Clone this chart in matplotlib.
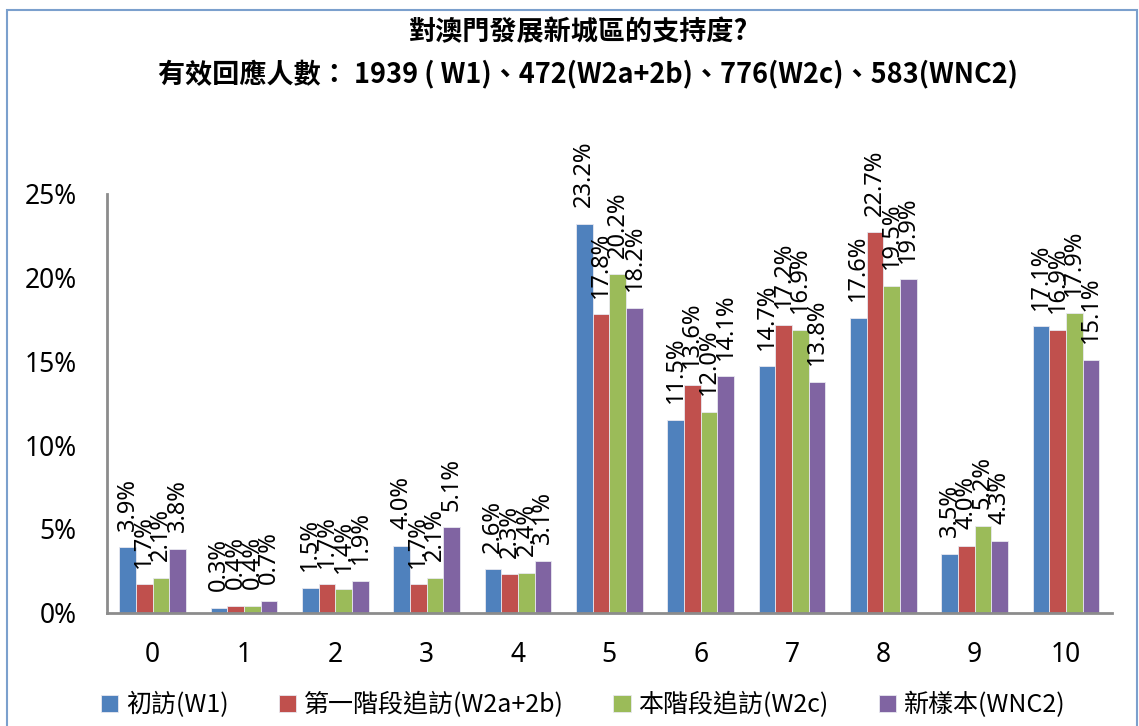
import numpy as np
import matplotlib.pyplot as plt
from matplotlib.patches import Rectangle

plt.rcParams['font.family'] = ['Noto Sans CJK TC', 'DejaVu Sans']

categories = ['0', '1', '2', '3', '4', '5', '6', '7', '8', '9', '10']
series_names = ['初訪(W1)', '第一階段追訪(W2a+2b)', '本階段追訪(W2c)', '新樣本(WNC2)']
w1 = [3.9, 0.3, 1.5, 4.0, 2.6, 23.2, 11.5, 14.7, 17.6, 3.5, 17.1]
w2ab = [1.7, 0.4, 1.7, 1.7, 2.3, 17.8, 13.6, 17.2, 22.7, 4.0, 16.9]
w2c = [2.1, 0.4, 1.4, 2.1, 2.4, 20.2, 12.0, 16.9, 19.5, 5.2, 17.9]
wnc2 = [3.8, 0.7, 1.9, 5.1, 3.1, 18.2, 14.1, 13.8, 19.9, 4.3, 15.1]
colors = ['#4F81BD', '#C0504D', '#9BBB59', '#8064A2']

title = '對澳門發展新城區的支持度?'
subtitle = '有效回應人數： 1939 ( W1)、472(W2a+2b)、776(W2c)、583(WNC2)'


def main():
    fig = plt.figure(figsize=(11.39, 7.26), dpi=100)
    ax = fig.add_axes([0.094, 0.156, 0.882, 0.577])

    x = np.arange(len(categories))
    width = 0.183
    all_series = [w1, w2ab, w2c, wnc2]
    for i, (vals, name, col) in enumerate(zip(all_series, series_names, colors)):
        pos = x + (i - 1.5) * width
        v = np.array(vals) / 100
        ax.bar(pos, v, width, color=col, edgecolor='#e8e8f0', linewidth=0.6,
               label=name, zorder=2)
        # value labels, rotated like the excel original
        for xp, val, raw in zip(pos, v, vals):
            ax.annotate(f'{raw:.1f}%', (xp, val), xytext=(0, 12),
                        textcoords='offset points', rotation=90,
                        ha='center', va='bottom', fontsize=17,
                        family=['Noto Sans'], annotation_clip=False)

    ax.set_xlim(-0.5, len(categories) - 0.5)
    ax.set_ylim(0, 0.25)
    ax.set_yticks(np.arange(0, 0.26, 0.05))
    ax.set_yticklabels([f'{int(t)}%' for t in np.arange(0, 26, 5)])
    ax.set_xticks(x)
    ax.set_xticklabels(categories)
    ax.tick_params(axis='both', length=0, labelsize=19)
    ax.tick_params(axis='y', pad=22)
    ax.tick_params(axis='x', pad=20)
    for lab in ax.get_xticklabels() + ax.get_yticklabels():
        lab.set_family(['Noto Sans'])

    for s in ['top', 'right']:
        ax.spines[s].set_visible(False)
    for s in ['left', 'bottom']:
        ax.spines[s].set_color('#8c8c8c')
        ax.spines[s].set_linewidth(2)

    fig.text(0.508, 0.955, title, ha='center', va='center', fontsize=19.5,
             fontweight='bold')
    fig.text(0.516, 0.897, subtitle, ha='center', va='center', fontsize=19.5,
             fontweight='bold')

    ax.legend(loc='center', bbox_to_anchor=(0.512, 0.029),
              bbox_transform=fig.transFigure, ncol=4, frameon=False,
              fontsize=18, handlelength=0.7, handleheight=0.7,
              handletextpad=0.3, columnspacing=2.0)

    fig.add_artist(Rectangle((0.006, -0.02), 0.992, 1.006, transform=fig.transFigure,
                             fill=False, edgecolor='#7ba0cd', linewidth=1.5))

    fig.savefig('out.png', dpi=100)
    plt.close(fig)


if __name__ == '__main__':
    main()
